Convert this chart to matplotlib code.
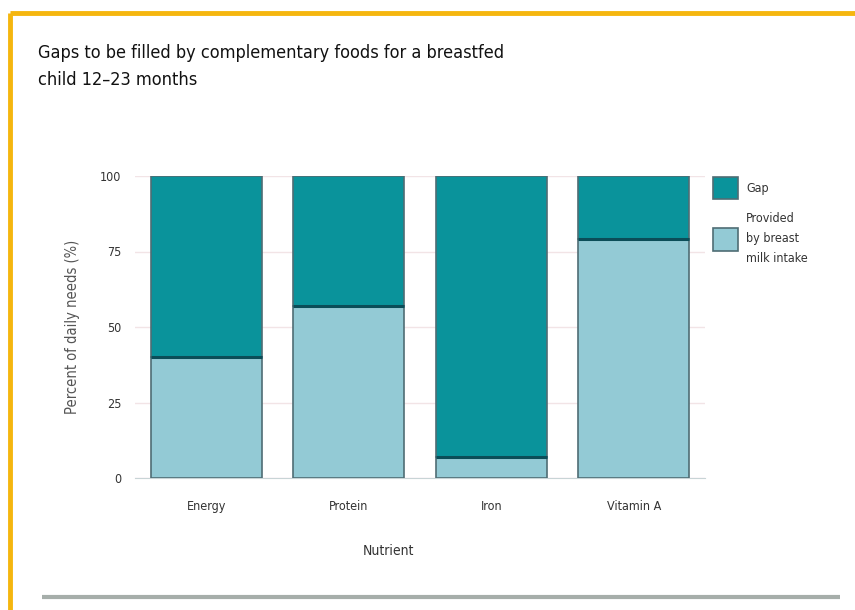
import matplotlib
matplotlib.use('Agg')
import matplotlib.pyplot as plt
from matplotlib.lines import Line2D

plt.rcParams['font.family'] = ['DejaVu Sans']
plt.rcParams['font.stretch'] = 'condensed'

# Data (percent of daily needs)
nutrients = ['Energy', 'Protein', 'Iron', 'Vitamin A']
provided = [40, 57, 7, 79]
gap = [100 - p for p in provided]

gap_color = '#0a939b'
prov_color = '#93cad5'
edge_color = '#4f6d74'

fig = plt.figure(figsize=(8.55, 6.10), dpi=100)

# Orange frame along left and top
fig.add_artist(Line2D([10 / 855, 10 / 855], [0, 1 - 13 / 610], transform=fig.transFigure,
                      color='#f5b60f', lw=3.5, solid_capstyle='butt'))
fig.add_artist(Line2D([10 / 855, 1], [1 - 13 / 610, 1 - 13 / 610], transform=fig.transFigure,
                      color='#f5b60f', lw=3.5, solid_capstyle='butt'))
# Gray rule at the bottom
fig.add_artist(Line2D([42 / 855, 840 / 855], [1 - 597 / 610, 1 - 597 / 610], transform=fig.transFigure,
                      color='#a6aeaa', lw=3, solid_capstyle='butt'))

# Title
fig.text(38 / 855, 1 - 44 / 610, 'Gaps to be filled by complementary foods for a breastfed\nchild 12\u201323 months',
         fontsize=13, color='#111111', va='top', ha='left', linespacing=1.65, fontstretch='condensed')

ax = fig.add_axes([135 / 855, 1 - 478 / 610, 570 / 855, 302 / 610])
x = list(range(len(nutrients)))
ax.bar(x, provided, width=0.78, color=prov_color, edgecolor=edge_color, linewidth=1.2, zorder=3,
       label='Provided\nby breast\nmilk intake')
ax.bar(x, gap, width=0.78, bottom=provided, color=gap_color, edgecolor=edge_color, linewidth=1.2, zorder=3,
       label='Gap')
# darker line where the two parts meet
ax.hlines(provided, [i - 0.39 for i in x], [i + 0.39 for i in x], color='#0b4d58', lw=2.2, zorder=4)

ax.set_xlim(-0.5, 3.5)
ax.set_ylim(0, 100)
ax.set_yticks([0, 25, 50, 75, 100])
ax.set_xticks(x)
ax.set_xticklabels(nutrients)
ax.tick_params(axis='both', length=0, labelsize=9, colors='#333333')
ax.tick_params(axis='x', pad=16)
ax.tick_params(axis='y', pad=10)
ax.grid(axis='y', color='#f2e4e6', lw=1, zorder=0)
for s in ['top', 'right', 'left']:
    ax.spines[s].set_visible(False)
ax.spines['bottom'].set_color('#c8d4d6')

ax.set_ylabel('Percent of daily needs (%)', fontsize=10.5, color='#555555', labelpad=14)
ax.set_xlabel('Nutrient', fontsize=10, color='#333333')
ax.xaxis.set_label_coords(0.445, -0.22)

handles, labels = ax.get_legend_handles_labels()
leg = ax.legend(handles[::-1], labels[::-1], loc='upper left', bbox_to_anchor=(0.995, 1.035), frameon=False,
                fontsize=9, handlelength=2.0, handleheight=2.4, labelspacing=1.0, handletextpad=0.6,
                labelcolor='#333333')
for t in leg.get_texts():
    t.set_linespacing(1.7)

fig.savefig('out.png', dpi=100)
